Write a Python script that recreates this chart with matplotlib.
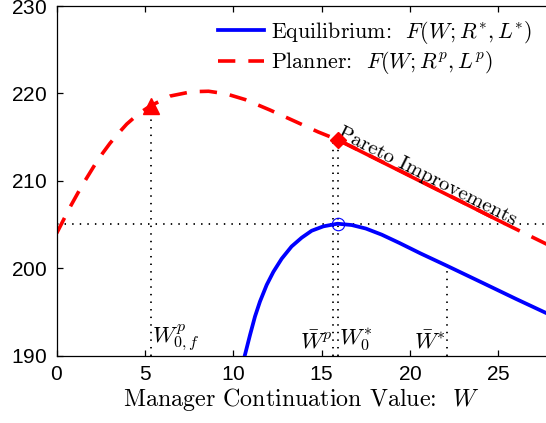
import numpy as np
import matplotlib
matplotlib.use("Agg")
import matplotlib.pyplot as plt

plt.rcParams['mathtext.fontset'] = 'cm'
plt.rcParams['axes.formatter.use_mathtext'] = True

# values
planner_w = [0, 0.76, 1.42, 2.18, 2.6, 3.02, 3.5, 3.97, 4.65, 5.33, 6.42, 7.65, 8.6, 9.6, 10.67, 12.08, 13.5, 14.8, 15.91, 20.0, 25.38, 27.8]
planner_f = [204.0, 207.0, 209.4, 211.9, 213.15, 214.3, 215.45, 216.5, 217.7, 218.6, 219.7, 220.2, 220.25, 219.95, 219.3, 218.1, 216.8, 215.6, 214.7, 210.6, 205.1, 202.7]

eq_w = [10.66, 10.95, 11.23, 11.51, 11.89, 12.27, 12.74, 13.3, 13.87, 14.44, 15.1, 15.9,
        16.7, 17.5, 18.4, 19.4, 20.6, 22.08, 24.2, 26.0, 27.8]
eq_f = [190.1, 192.4, 194.5, 196.2, 198.1, 199.6, 201.1, 202.5, 203.5, 204.3, 204.8, 205.1,
        204.95, 204.55, 203.85, 202.9, 201.7, 200.3, 198.25, 196.5, 194.8]

pareto_w = [15.91, 25.38]
pareto_f = [214.7, 205.1]

w0f_p, f_w0f_p = 5.33, 218.6      # triangle
wbar_p, w0_star, f_w0_star = 15.67, 15.91, 214.7   # diamond
w_peak, f_peak = 15.9, 205.1      # circle
wbar_star, f_wbar_star = 22.08, 200.0

fig = plt.figure(figsize=(5.46, 4.23), dpi=100)
ax = fig.add_axes([0.1037, 0.159, 0.8963, 0.8268])

dot = (0, (0.8, 3.4))
ax.axhline(f_peak, color='k', lw=1.3, ls=dot, zorder=1)
ax.plot([w0f_p, w0f_p], [190, f_w0f_p], color='k', lw=1.3, ls=dot, zorder=1)
ax.plot([wbar_p, wbar_p], [190, f_w0_star], color='k', lw=1.3, ls=dot, zorder=1)
ax.plot([w0_star, w0_star], [190, f_w0_star], color='k', lw=1.3, ls=dot, zorder=1)
ax.plot([wbar_star, wbar_star], [190, f_wbar_star], color='k', lw=1.3, ls=dot, zorder=1)

ax.plot(eq_w, eq_f, color='#0000ff', lw=2.7, label=r'Equilibrium:  $F(W;R^{*},L^{*})$', zorder=3)
ax.plot(planner_w, planner_f, color='#ff0000', lw=2.6, ls=(0, (4.8, 3.6)),
        label=r'Planner:  $F(W;R^{p},L^{p})$', zorder=2)
ax.plot(pareto_w, pareto_f, color='#ff0000', lw=2.6, solid_capstyle='butt', zorder=3)

ax.plot([w0f_p], [f_w0f_p], marker='^', color='#ff0000', ms=11, zorder=4)
ax.plot([w0_star], [f_w0_star], marker='D', color='#ff0000', ms=8, zorder=4)
ax.plot([w_peak], [f_peak], marker='o', mfc='none', mec='#0000ff', mew=0.8, ms=9, zorder=4)

tfs = 16.5
ax.text(w0f_p + 0.05, 190.3, r'$W^{p}_{0,f}$', fontsize=tfs, ha='left', va='bottom')
ax.text(wbar_p - 0.05, 190.3, r'$\bar{W}^{p}$', fontsize=tfs, ha='right', va='bottom')
ax.text(w0_star + 0.05, 190.3, r'$W^{*}_{0}$', fontsize=tfs, ha='left', va='bottom')
ax.text(wbar_star - 0.05, 190.3, r'$\bar{W}^{*}$', fontsize=tfs, ha='right', va='bottom')

ax.text(15.85, 215.1, 'Pareto Improvements', family='cmr10', fontsize=15,
        rotation=-26.7, rotation_mode='anchor', ha='left', va='baseline')

ax.set_xlim(0, 27.7)
ax.set_ylim(190, 230)
ax.set_xticks([0, 5, 10, 15, 20, 25])
ax.set_yticks([190, 200, 210, 220, 230])
ax.tick_params(direction='in', top=True, right=False, length=4, width=0.9,
               labelsize=15, pad=7)
for lab in ax.get_xticklabels() + ax.get_yticklabels():
    lab.set_family('Liberation Sans')
ax.spines['right'].set_visible(False)
for s in ['left', 'top', 'bottom']:
    ax.spines[s].set_linewidth(0.9)

ax.set_xlabel(r'Manager Continuation Value:  $W$', family='cmr10', fontsize=17.3, labelpad=1)

leg = ax.legend(loc='upper right', bbox_to_anchor=(0.974, 0.955), bbox_transform=fig.transFigure,
                frameon=False, borderpad=0, borderaxespad=0, handlelength=2.1,
                handletextpad=0.3, labelspacing=0.15, prop={'family': 'cmr10', 'size': 15.8})

fig.savefig('out.png', dpi=100)
